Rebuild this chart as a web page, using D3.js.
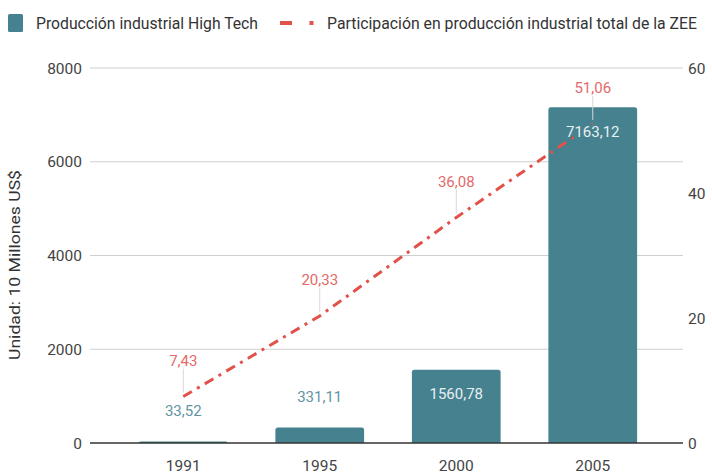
<!DOCTYPE html>
<html><head><meta charset="utf-8">
<script src="https://cdn.jsdelivr.net/npm/d3@7"></script>
<style>body{margin:0;background:#fff}svg{display:block;font-family:Roboto,Arial,sans-serif}</style>
</head><body><svg id="c" width="712" height="475"></svg>
<script>
const years = ["1991","1995","2000","2005"];
const production = [33.52, 331.11, 1560.78, 7163.12];
const share = [7.43, 20.33, 36.08, 51.06];
const leftTicks = [0, 2000, 4000, 6000, 8000];
const rightTicks = [0, 20, 40, 60];
const seriesNames = ["Producción industrial High Tech", "Participación en producción industrial total de la ZEE"];
const yTitle = "Unidad: 10 Millones US$";
const fmt = v => v.toFixed(2).replace(".", ",");

const svg = d3.select("#c");
const barColor = "#45818e", lineColor = "#e0524a", lineLabel = "#e36a68";
const x = d3.scaleBand().domain(years).range([115, 661]).paddingInner(0.35).paddingOuter(0.175);
const yL = d3.scaleLinear().domain([0, 8000]).range([443, 68]);
const yR = d3.scaleLinear().domain([0, 60]).range([443, 68]);
const gx0 = 90, gx1 = 683;

// gridlines
svg.append("g").selectAll("line").data(leftTicks.filter(d => d > 0)).join("line")
  .attr("x1", gx0).attr("x2", gx1).attr("y1", d => yL(d)).attr("y2", d => yL(d))
  .attr("stroke", "#cfcfcf").attr("stroke-width", 1);

// left axis labels
svg.append("g").selectAll("text").data(leftTicks).join("text")
  .attr("x", 82).attr("y", d => yL(d)).attr("dy", "0.36em").attr("text-anchor", "end")
  .attr("font-size", 15.5).attr("fill", "#444").text(d => d);
// right axis labels
svg.append("g").selectAll("text").data(rightTicks).join("text")
  .attr("x", 688).attr("y", d => yR(d)).attr("dy", "0.36em").attr("text-anchor", "start")
  .attr("font-size", 15.5).attr("fill", "#444").text(d => d);
// x labels
svg.append("g").selectAll("text").data(years).join("text")
  .attr("x", d => x(d) + x.bandwidth() / 2).attr("y", 471).attr("text-anchor", "middle")
  .attr("font-size", 15.5).attr("fill", "#444").text(d => d);
// y title
svg.append("text").attr("transform", "translate(20,265) rotate(-90)").attr("text-anchor", "middle")
  .attr("font-size", 14).attr("fill", "#333")
  .attr("textLength", 190).attr("lengthAdjust", "spacingAndGlyphs").text(yTitle);

// bars
const bh = d => yL(0) - yL(d);
svg.append("g").selectAll("path").data(production).join("path")
  .attr("d", (d, i) => {
    const x0 = x(years[i]), w = x.bandwidth(), y0 = yL(d), r = Math.min(2.5, bh(d));
    return `M${x0},${yL(0)}V${y0 + r}Q${x0},${y0} ${x0 + r},${y0}H${x0 + w - r}Q${x0 + w},${y0} ${x0 + w},${y0 + r}V${yL(0)}Z`;
  })
  .attr("fill", barColor);

// baseline
svg.append("line").attr("x1", gx0).attr("x2", gx1).attr("y1", yL(0)).attr("y2", yL(0))
  .attr("stroke", "#333").attr("stroke-width", 1.3);

// leader lines for line labels
svg.append("g").selectAll("line").data(share).join("line")
  .attr("x1", (d, i) => x(years[i]) + x.bandwidth() / 2).attr("x2", (d, i) => x(years[i]) + x.bandwidth() / 2)
  .attr("y1", d => yR(d) - 28).attr("y2", d => yR(d) - 4)
  .attr("stroke", "#d8d8d8").attr("stroke-width", 1);

// line
const line = d3.line().x((d, i) => x(years[i]) + x.bandwidth() / 2).y(d => yR(d));
svg.append("path").datum(share).attr("d", line).attr("fill", "none")
  .attr("stroke", lineColor).attr("stroke-width", 3).attr("stroke-dasharray", "10,6,3,6");

// bar labels
const inside = d => bh(d) > 40;
svg.append("g").selectAll("text").data(production).join("text")
  .attr("x", (d, i) => x(years[i]) + x.bandwidth() / 2)
  .attr("y", d => inside(d) ? yL(d) + 24 : yL(d) - 31).attr("dy", "0.36em")
  .attr("text-anchor", "middle").attr("font-size", 15)
  .attr("fill", d => inside(d) ? "#e6f0f2" : "#5f95a2")
  .attr("stroke", d => inside(d) ? barColor : "none").attr("stroke-width", 4).attr("paint-order", "stroke")
  .text(fmt);

// line labels
svg.append("g").selectAll("text").data(share).join("text")
  .attr("x", (d, i) => x(years[i]) + x.bandwidth() / 2)
  .attr("y", d => yR(d) - 36).attr("dy", "0.36em")
  .attr("text-anchor", "middle").attr("font-size", 15).attr("fill", lineLabel)
  .text(fmt);

// legend
const lg = svg.append("g");
lg.append("rect").attr("x", 8).attr("y", 14).attr("width", 15).attr("height", 18).attr("rx", 1.5).attr("fill", barColor);
lg.append("text").attr("x", 36).attr("y", 23).attr("dy", "0.36em").attr("font-size", 16).attr("fill", "#333")
  .attr("textLength", 222).attr("lengthAdjust", "spacingAndGlyphs").text(seriesNames[0]);
lg.append("line").attr("x1", 280).attr("x2", 292).attr("y1", 23).attr("y2", 23).attr("stroke", lineColor).attr("stroke-width", 4);
lg.append("line").attr("x1", 309.5).attr("x2", 313.5).attr("y1", 23).attr("y2", 23).attr("stroke", lineColor).attr("stroke-width", 4);
lg.append("text").attr("x", 327).attr("y", 23).attr("dy", "0.36em").attr("font-size", 16).attr("fill", "#333")
  .attr("textLength", 370).attr("lengthAdjust", "spacingAndGlyphs").text(seriesNames[1]);
</script></body></html>
